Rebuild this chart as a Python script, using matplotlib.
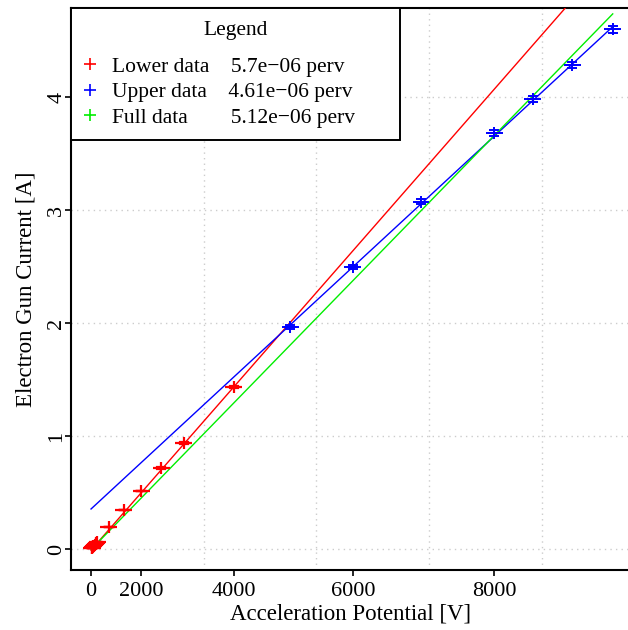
import numpy as np
import matplotlib
matplotlib.use('Agg')
import matplotlib.pyplot as plt

plt.rcParams['font.family'] = ['Liberation Serif', 'DejaVu Serif']

# ---- data (acceleration potential V, current A) ----
lower_V = [100, 150, 200, 250, 300, 350, 400, 450, 500, 1000, 1500, 2000, 2500, 3000, 4000]
lower_I = [0.006, 0.010, 0.016, 0.022, 0.030, 0.037, 0.046, 0.054, 0.064,
           0.195, 0.345, 0.513, 0.717, 0.938, 1.434]
lower_Ierr = [0.001, 0.001, 0.001, 0.001, 0.001, 0.001, 0.001, 0.001, 0.001,
              0.0014, 0.0024, 0.0036, 0.005, 0.0066, 0.010]

upper_V = [5000, 6000, 7000, 8000, 8500, 9000, 9500]
upper_I = [1.965, 2.496, 3.072, 3.680, 3.980, 4.283, 4.600]
upper_Ierr = [0.014, 0.0175, 0.0215, 0.026, 0.028, 0.030, 0.032]

# horizontal error in V^1.5 units
xerr_u = 15000

# fitted lines: intercept, perveance
fit_intercepts = [-0.01, 0.354, -0.005]
fit_slopes = [5.7e-6, 4.61e-6, 5.12e-6]
fit_colors = ['#ff0000', '#0000ff', '#00ee00']
fit_labels = ['Lower data    5.7e\u221206 perv       ',
              'Upper data    4.61e\u221206 perv      ',
              'Full data        5.12e\u221206 perv      ']

V_ticks = [0, 2000, 4000, 6000, 8000]
grid_u = [0, 200000, 400000, 600000, 800000]
I_ticks = [0, 1, 2, 3, 4]

fig = plt.figure(figsize=(6.28, 6.30), dpi=100)
W, H = 628, 630
ax = fig.add_axes([71 / W, (H - 570) / H, (630 - 71) / W, (570 - 8) / H])

lower_u = np.array(lower_V, dtype=float) ** 1.5
upper_u = np.array(upper_V, dtype=float) ** 1.5
u_max = max(upper_u.max(), lower_u.max())

# fit lines
u_line = np.array([0.0, u_max])
for a, b, c in zip(fit_intercepts, fit_slopes, fit_colors):
    ax.plot(u_line, a + b * u_line, color=c, lw=1.0, zorder=3)

# data points with error bars
for u, I, Ierr, c, lw in [(lower_u, lower_I, lower_Ierr, '#ff0000', 1.6),
                          (upper_u, upper_I, upper_Ierr, '#0000ff', 1.4)]:
    ax.errorbar(u, I, yerr=Ierr, fmt='+', color=c, ms=8, mew=lw,
                elinewidth=lw, capsize=3.6, capthick=lw, zorder=4)
    ax.errorbar(u, I, xerr=xerr_u, fmt='none', ecolor=c,
                elinewidth=lw, capsize=0, zorder=4)

ax.set_xlim(-35560, 956600)
ax.set_ylim(-0.186, 4.788)

ax.set_xticks(np.array(V_ticks, dtype=float) ** 1.5)
ax.set_xticklabels([str(v) for v in V_ticks])
ax.set_xticks(grid_u, minor=True)
ax.set_yticks(I_ticks)
ax.set_yticklabels([str(v) for v in I_ticks], rotation=90, va='center')

ax.tick_params(axis='both', which='major', labelsize=16, length=4.5, width=1.2,
               direction='out', color='black')
ax.tick_params(axis='x', which='minor', length=0)
ax.tick_params(axis='x', which='major', pad=4)
ax.tick_params(axis='y', which='major', pad=-1)

ax.grid(True, axis='x', which='minor', color='#cccccc', linestyle=(0, (1, 3)), lw=1.0)
ax.grid(True, axis='y', which='major', color='#cccccc', linestyle=(0, (1, 3)), lw=1.0)
ax.set_axisbelow(True)

for s in ax.spines.values():
    s.set_linewidth(1.5)

ax.set_xlabel('Acceleration Potential [V]', fontsize=16.5, labelpad=2)
ax.set_ylabel('Electron Gun Current [A]', fontsize=16.5, labelpad=8)

# legend
handles = [plt.Line2D([], [], marker='+', ls='none', color=c, ms=9, mew=1.2)
           for c in fit_colors]
leg = ax.legend(handles, fit_labels, title='Legend', loc='upper left',
                bbox_to_anchor=(0, 1), borderaxespad=0, fontsize=15.5,
                title_fontsize=15.5, frameon=True, fancybox=False,
                edgecolor='black', framealpha=1, handlelength=0.6,
                handletextpad=0.7, labelspacing=0.25, borderpad=0.6)
leg.get_frame().set_linewidth(1.4)
leg._legend_box.sep = 12
leg.set_zorder(10)

fig.savefig('out.png', dpi=100)
